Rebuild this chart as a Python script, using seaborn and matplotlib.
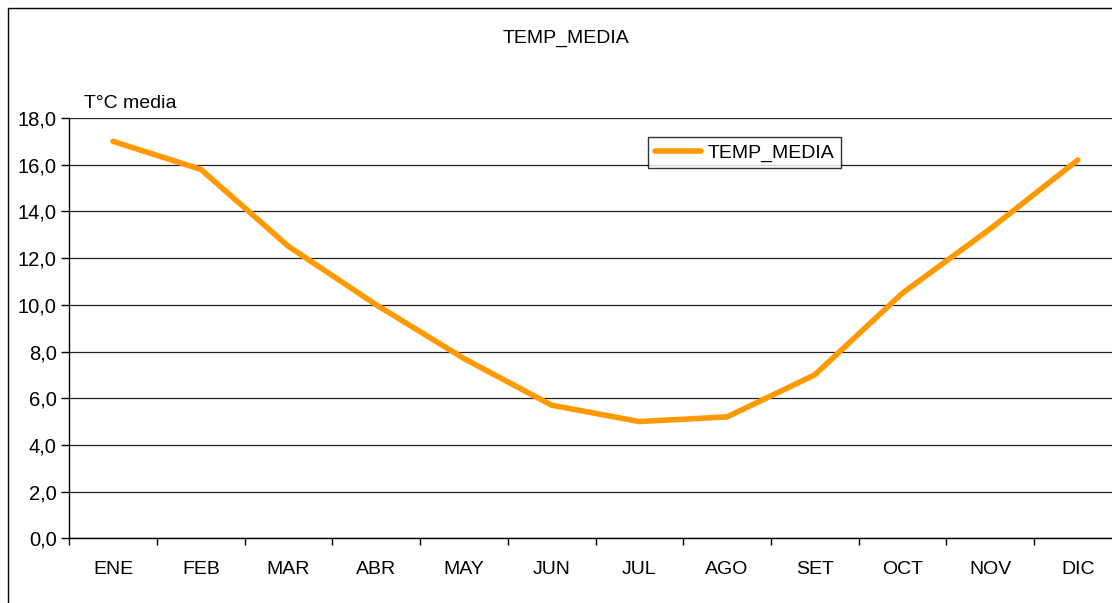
import seaborn as sns
import numpy as np
import matplotlib.pyplot as plt
from matplotlib.patches import Rectangle
from matplotlib.ticker import FuncFormatter

# monthly mean temperature
months = ['ENE', 'FEB', 'MAR', 'ABR', 'MAY', 'JUN',
          'JUL', 'AGO', 'SET', 'OCT', 'NOV', 'DIC']
temp_media = [17.0, 15.8, 12.5, 10.0, 7.7, 5.7,
              5.0, 5.2, 7.0, 10.5, 13.25, 16.2]
y_ticks = [0, 2, 4, 6, 8, 10, 12, 14, 16, 18]

sns.set_style('white')
plt.rcParams['font.family'] = ['Liberation Sans', 'DejaVu Sans']
plt.rcParams['text.color'] = 'black'
plt.rcParams['xtick.color'] = 'black'
plt.rcParams['ytick.color'] = 'black'

fig = plt.figure(figsize=(11.12, 6.03), dpi=100)
W, H = 1112, 603
# plot area: x from 69 px, 12 categories of ~87.7 px (runs past the right edge)
ax = fig.add_axes([69.3 / W, (H - 538.3) / H, 1052.4 / W, 420.3 / H])

sns.lineplot(x=months, y=temp_media, ax=ax, color='#FF9900', linewidth=4,
             label='TEMP_MEDIA', sort=False)

ax.set_xlim(-0.5, 11.5)
ax.set_ylim(0, 18)
ax.set_yticks(y_ticks)
ax.yaxis.set_major_formatter(FuncFormatter(lambda v, p: f'{v:.1f}'.replace('.', ',')))
ax.set_xticks(range(len(months)))
ax.set_xticklabels(months)
ax.set_xticks(np.arange(-0.5, 12, 1), minor=True)
ax.tick_params(axis='x', which='major', bottom=True, length=0, pad=16, labelsize=14)
ax.tick_params(axis='x', which='minor', bottom=True, length=5, width=1, direction='out')
ax.tick_params(axis='y', left=True, length=6, width=1, direction='out', pad=3, labelsize=14.5)
ax.set_xlabel('')
ax.set_ylabel('')

ax.yaxis.grid(True, color='#222222', linewidth=0.9)
ax.set_axisbelow(True)
for s in ['top', 'right']:
    ax.spines[s].set_visible(False)
for s in ['left', 'bottom']:
    ax.spines[s].set_color('black')
    ax.spines[s].set_linewidth(1)

# titles
fig.text(566 / W, 1 - 38 / H, 'TEMP_MEDIA', ha='center', va='center', fontsize=14)
fig.text(84 / W, 1 - 104 / H, 'T°C media', ha='left', va='center', fontsize=14)

leg = ax.legend(loc='upper left', bbox_to_anchor=(648 / W, 1 - 137 / H),
                bbox_transform=fig.transFigure, borderaxespad=0,
                frameon=True, fancybox=False, edgecolor='black',
                fontsize=14, handlelength=2.4, handletextpad=0.3,
                borderpad=0.35)
leg.get_frame().set_linewidth(1)

# outer chart border (cropped on the right and bottom)
fig.patches.append(Rectangle((7.5 / W, -0.1), 1.2, 1 - 8 / H + 0.1,
                             transform=fig.transFigure, fill=False,
                             edgecolor='black', linewidth=1))

fig.savefig('out.png', dpi=100)
